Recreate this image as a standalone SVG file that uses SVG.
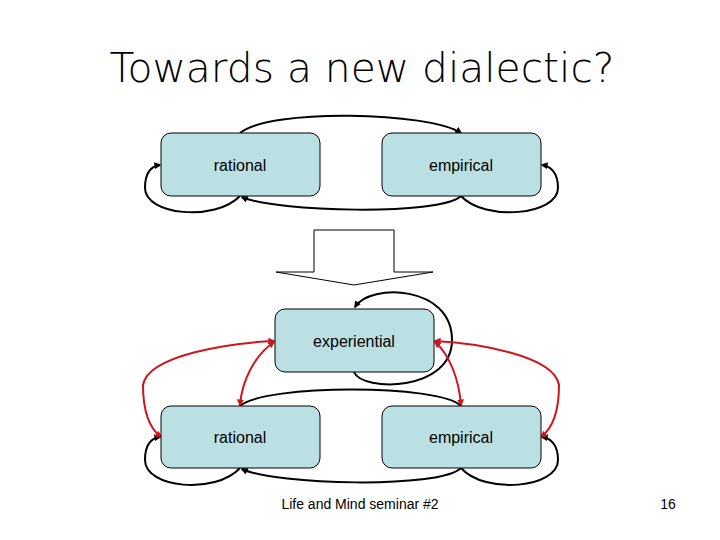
<svg xmlns="http://www.w3.org/2000/svg" width="720" height="540" viewBox="0 0 720 540">
<defs>
<style>
.box{fill:#bbe0e3;stroke:#000;stroke-width:1}
.lbl{font-family:"Liberation Sans",Arial,sans-serif;font-size:16px;text-anchor:middle}
.blk{fill:none;stroke:#000;stroke-width:2}
.red{fill:none;stroke:#d0141c;stroke-width:2}
</style>
<marker id="ab" viewBox="0 0 10 10" refX="8" refY="5" markerWidth="3.5" markerHeight="3.5" orient="auto-start-reverse"><path d="M0,0L10,5L0,10z" fill="#000"/></marker>
<marker id="ar" viewBox="0 0 10 10" refX="8" refY="5" markerWidth="3.5" markerHeight="3.5" orient="auto-start-reverse"><path d="M0,0L10,5L0,10z" fill="#d0141c"/></marker>
</defs>
<rect width="720" height="540" fill="#fff"/>
<text x="362" y="82" font-family="'DejaVu Sans',sans-serif" font-weight="200" font-size="40" text-anchor="middle" textLength="505" lengthAdjust="spacingAndGlyphs">Towards a new dialectic?</text>
<g id="connectors">
<path class="blk" d="M240,133 C270,108 430,112 461,133" marker-end="url(#ab)"/>
<path class="blk" d="M461,196 C440,216 275,212 242,197" marker-end="url(#ab)"/>
<path class="blk" d="M240,196 C215,222 145,215 145,188 C145,172 152,166 160,165" marker-end="url(#ab)"/>
<path class="blk" d="M461,196 C485,222 558,215 558,188 C558,172 550,166 542,165" marker-end="url(#ab)"/>
<path class="blk" d="M240,406 C265,384 440,384 461,406"/>
<path class="blk" d="M461,468 C440,489 275,485 242,469" marker-end="url(#ab)"/>
<path class="blk" d="M240,468 C215,495 145,488 145,460 C145,444 152,438 160,437" marker-end="url(#ab)"/>
<path class="blk" d="M461,468 C485,495 558,488 558,460 C558,444 550,438 542,437" marker-end="url(#ab)"/>
<path class="blk" d="M354,372 C362,392 452,392 452,340 C452,285 370,283 355,307" marker-end="url(#ab)"/>
<path class="red" d="M161,437 C145,425 143,400 143,385 C148,355 230,343 274,341" marker-start="url(#ar)" marker-end="url(#ar)"/>
<path class="red" d="M240,405 C242,380 255,355 274,342" marker-start="url(#ar)" marker-end="url(#ar)"/>
<path class="red" d="M541,437 C557,425 559,400 559,385 C554,355 475,343 435,341" marker-start="url(#ar)" marker-end="url(#ar)"/>
<path class="red" d="M461,405 C459,380 450,355 435,342" marker-start="url(#ar)" marker-end="url(#ar)"/>
</g>
<g id="transition"><path d="M314,230H394V272H433L354,285L276,272H314Z" fill="#fff" stroke="#000" stroke-width="1"/></g>
<g id="rational1"><rect class="box" x="161" y="133" width="159" height="63" rx="10"/><text class="lbl" x="240" y="171">rational</text></g>
<g id="empirical1"><rect class="box" x="382" y="133" width="159" height="63" rx="10"/><text class="lbl" x="461" y="171">empirical</text></g>
<g id="experiential"><rect class="box" x="275" y="309" width="159" height="63" rx="10"/><text class="lbl" x="354" y="347">experiential</text></g>
<g id="rational2"><rect class="box" x="161" y="406" width="159" height="62" rx="10"/><text class="lbl" x="240" y="443">rational</text></g>
<g id="empirical2"><rect class="box" x="382" y="406" width="159" height="62" rx="10"/><text class="lbl" x="461" y="443">empirical</text></g>
<text x="360" y="509" font-family="'Liberation Sans',Arial,sans-serif" font-size="14" text-anchor="middle">Life and Mind seminar #2</text>
<text x="668" y="509" font-family="'Liberation Sans',Arial,sans-serif" font-size="14" text-anchor="middle">16</text>
</svg>
